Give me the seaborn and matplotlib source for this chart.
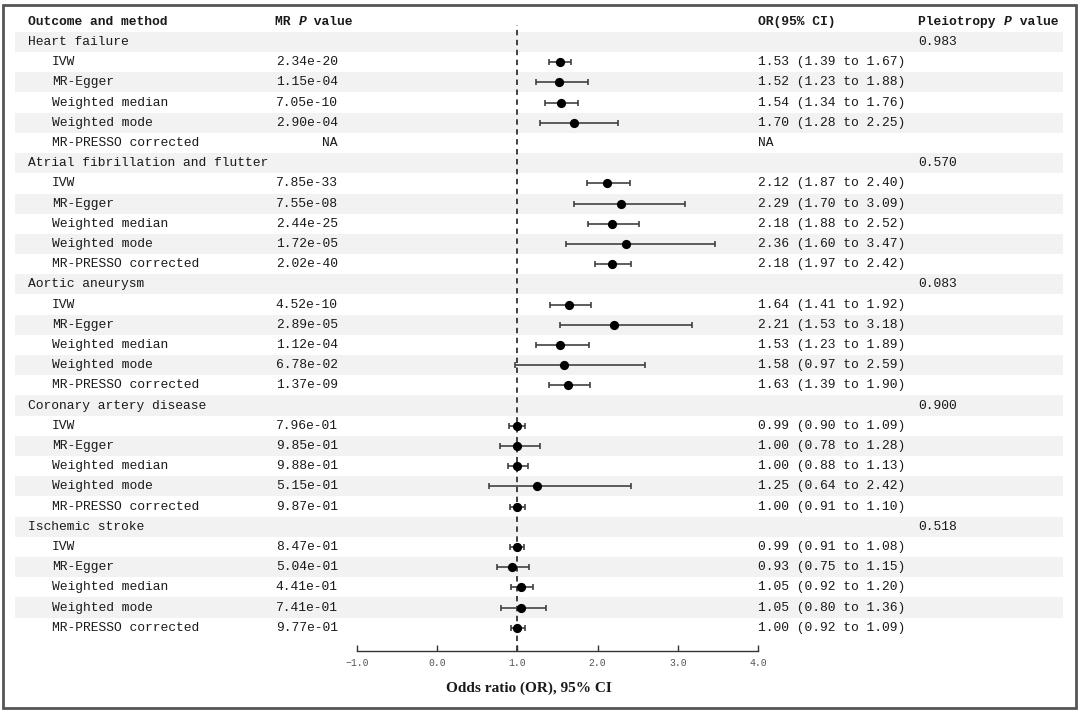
"""
Forest plot of MR estimates per outcome and method
"""

import numpy as np
import pandas as pd
import matplotlib
matplotlib.use("Agg")
import matplotlib.pyplot as plt
import matplotlib.transforms as mtransforms
from matplotlib.patches import Rectangle
import seaborn as sns

# ---- data ----
outcomes = ["Heart failure", "Atrial fibrillation and flutter", "Aortic aneurysm",
            "Coronary artery disease", "Ischemic stroke"]
pleio_p = ["0.983", "0.570", "0.083", "0.900", "0.518"]
methods = ["IVW", "MR-Egger", "Weighted median", "Weighted mode", "MR-PRESSO corrected"]

mr_p = [
    ["2.34e-20", "1.15e-04", "7.05e-10", "2.90e-04", "NA"],
    ["7.85e-33", "7.55e-08", "2.44e-25", "1.72e-05", "2.02e-40"],
    ["4.52e-10", "2.89e-05", "1.12e-04", "6.78e-02", "1.37e-09"],
    ["7.96e-01", "9.85e-01", "9.88e-01", "5.15e-01", "9.87e-01"],
    ["8.47e-01", "5.04e-01", "4.41e-01", "7.41e-01", "9.77e-01"],
]
or_est = [
    [1.53, 1.52, 1.54, 1.70, np.nan],
    [2.12, 2.29, 2.18, 2.36, 2.18],
    [1.64, 2.21, 1.53, 1.58, 1.63],
    [0.99, 1.00, 1.00, 1.25, 1.00],
    [0.99, 0.93, 1.05, 1.05, 1.00],
]
or_lo = [
    [1.39, 1.23, 1.34, 1.28, np.nan],
    [1.87, 1.70, 1.88, 1.60, 1.97],
    [1.41, 1.53, 1.23, 0.97, 1.39],
    [0.90, 0.78, 0.88, 0.64, 0.91],
    [0.91, 0.75, 0.92, 0.80, 0.92],
]
or_hi = [
    [1.67, 1.88, 1.76, 2.25, np.nan],
    [2.40, 3.09, 2.52, 3.47, 2.42],
    [1.92, 3.18, 1.89, 2.59, 1.90],
    [1.09, 1.28, 1.13, 2.42, 1.10],
    [1.08, 1.15, 1.20, 1.36, 1.09],
]
x_ticks = [-1.0, 0.0, 1.0, 2.0, 3.0, 4.0]

# ---- layout (pixels) ----
W, H = 1080, 712
ROW0, ROW_H = 42, 20.2
AX_L, AX_R, AX_B = 357, 758, 651
FS = 9.4
CHAR_W = 0.6 * FS * 100 / 72
MONO = ["Liberation Mono", "DejaVu Sans Mono"]
TXT = "#1a1a1a"

sns.set_style("white")
plt.rcParams["font.family"] = MONO

# one row per outcome header plus one per method
rows = []
for k, name in enumerate(outcomes):
    rows.append(dict(row=6 * k, kind="outcome", label=name, p="", ortxt="",
                     pleio=pleio_p[k], est=np.nan, lo=np.nan, hi=np.nan))
    for j, m in enumerate(methods):
        e, l, h = or_est[k][j], or_lo[k][j], or_hi[k][j]
        txt = "NA" if np.isnan(e) else f"{e:.2f} ({l:.2f} to {h:.2f})"
        rows.append(dict(row=6 * k + j + 1, kind="method", label=m, p=mr_p[k][j],
                         ortxt=txt, pleio="", est=e, lo=l, hi=h))
df = pd.DataFrame(rows)

fig = plt.figure(figsize=(W / 100, H / 100), dpi=100)
ax = fig.add_axes([AX_L / W, (H - AX_B) / H, (AX_R - AX_L) / W, AX_B / H])
ax.set_xlim(x_ticks[0], x_ticks[-1])
ax.set_ylim((AX_B - ROW0) / ROW_H, (0 - ROW0) / ROW_H)

# zebra shading across the whole table
span = AX_R - AX_L
for r in df["row"]:
    if r % 2 == 0:
        ax.axhspan(r - 0.5, r + 0.5, xmin=(15 - AX_L) / span, xmax=(1063 - AX_L) / span,
                   color="#f2f2f2", lw=0, zorder=0, clip_on=False)

# reference line at OR = 1
ax.axvline(1.0, ymin=0, ymax=(AX_B - 25) / AX_B, color="#333333", lw=1.3,
           ls=(0, (3, 2.5)), zorder=1)

pts = df.dropna(subset=["est"])
ax.errorbar(pts["est"], pts["row"],
            xerr=[pts["est"] - pts["lo"], pts["hi"] - pts["est"]],
            fmt="none", ecolor="#3a3a3a", elinewidth=1.15, capsize=2.4, capthick=1.15, zorder=2)
sns.scatterplot(data=pts, x="est", y="row", ax=ax, color="black", s=44,
                linewidth=0, zorder=3, legend=False)

# axis styling
for s in ["left", "right", "top"]:
    ax.spines[s].set_visible(False)
ax.spines["bottom"].set_color("#333333")
ax.spines["bottom"].set_linewidth(1.0)
ax.set_yticks([])
ax.set_xticks(x_ticks)
ax.set_xticklabels([f"{v:.1f}".replace("-", "\u2212") for v in x_ticks])
ax.tick_params(axis="x", direction="in", length=4, width=1.0, color="#333333",
               labelsize=7, labelcolor="#555555", pad=5, bottom=True)
ax.set_xlabel("")
ax.set_ylabel("")
fig.text(529 / W, 1 - 688 / H, "Odds ratio (OR), 95% CI", ha="center", va="center",
         fontsize=11, fontweight="bold", family=["Liberation Serif", "DejaVu Serif"],
         color=TXT)

# table text: x in figure pixels, y in row units
tr = mtransforms.blended_transform_factory(fig.transFigure, ax.transData)


def put(px, row, s, **kw):
    ax.text(px / W, row, s, transform=tr, va="center", fontsize=FS, color=TXT,
            clip_on=False, **kw)


def header(px, parts):
    x = px
    for s, style in parts:
        put(x, -1, s, fontweight="bold", fontstyle=style)
        x += CHAR_W * len(s)


header(28, [("Outcome and method", "normal")])
header(275, [("MR ", "normal"), ("P", "italic"), (" value", "normal")])
header(758, [("OR(95% CI)", "normal")])
header(918, [("Pleiotropy ", "normal"), ("P", "italic"), (" value", "normal")])

p_right = 275 + CHAR_W * 8
for _, r in df.iterrows():
    if r["kind"] == "outcome":
        put(28, r["row"], r["label"])
        put(918, r["row"], r["pleio"])
    else:
        put(52, r["row"], r["label"])
        put(p_right, r["row"], r["p"], ha="right")
        put(758, r["row"], r["ortxt"])

# outer frame
fig.patches.append(Rectangle((3 / W, 4 / H), 1073 / W, 703 / H, transform=fig.transFigure,
                             fill=False, ec="#555555", lw=2))

fig.savefig("out.png", dpi=100)
plt.close(fig)
